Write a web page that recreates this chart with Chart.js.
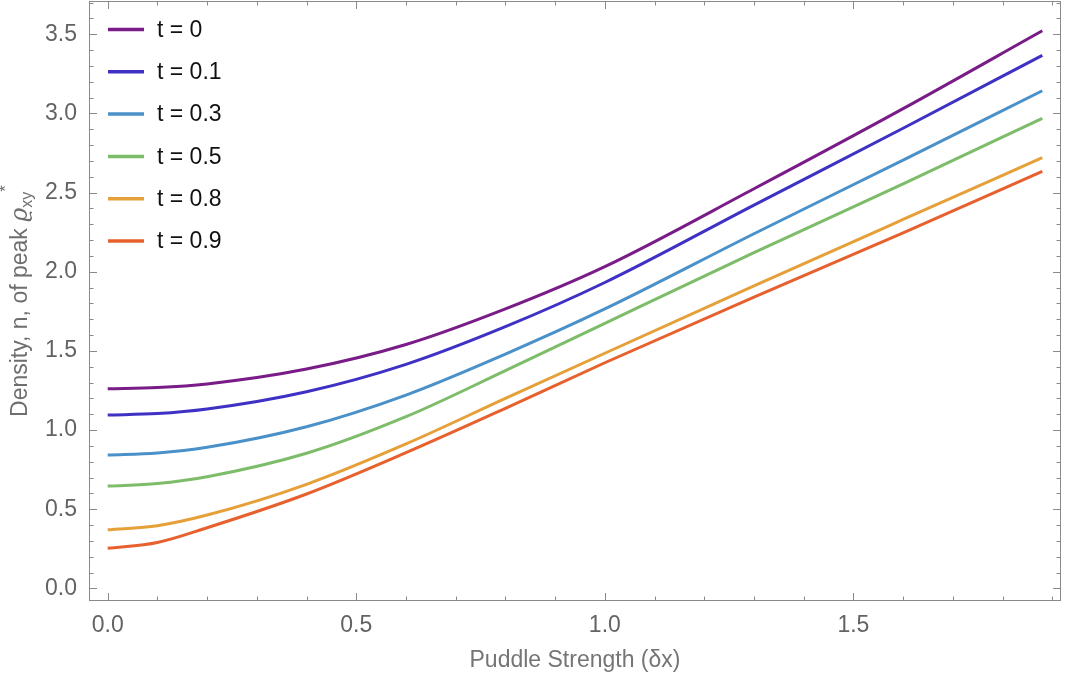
<!DOCTYPE html>
<html lang="en">
<head>
  <meta charset="UTF-8" />
  <title>Density of peak vs Puddle Strength</title>
  <script src="https://cdn.jsdelivr.net/npm/chart.js"></script>
  <style>
    body { margin: 0; background: #fff; }
    #wrap { width: 1066px; height: 679px; }
  </style>
</head>
<body>
  <div id="wrap"><canvas id="densityChart" width="1066" height="679"></canvas></div>

  <script>
    // values
    const xValues = [0, 0.1, 0.2, 0.4, 0.6, 0.8, 1.0, 1.3, 1.6, 1.88];
    const seriesLabels = ["t = 0", "t = 0.1", "t = 0.3", "t = 0.5", "t = 0.8", "t = 0.9"];
    const t0  = [1.260, 1.268, 1.291, 1.385, 1.540, 1.765, 2.032, 2.524, 3.030, 3.522];
    const t01 = [1.095, 1.104, 1.133, 1.242, 1.415, 1.653, 1.932, 2.421, 2.906, 3.367];
    const t03 = [0.842, 0.855, 0.891, 1.021, 1.221, 1.480, 1.765, 2.240, 2.705, 3.143];
    const t05 = [0.646, 0.662, 0.705, 0.853, 1.084, 1.375, 1.674, 2.120, 2.555, 2.969];
    const t08 = [0.370, 0.396, 0.463, 0.657, 0.912, 1.200, 1.485, 1.910, 2.330, 2.720];
    const t09 = [0.253, 0.290, 0.383, 0.596, 0.857, 1.137, 1.425, 1.840, 2.245, 2.634];
    const seriesColors = ["#7a1c88", "#3f31c3", "#4a91c9", "#7dbc69", "#e6a03a", "#e6612e"];

    const xMajor = [0, 0.5, 1.0, 1.5];
    const yMajor = [0, 0.5, 1.0, 1.5, 2.0, 2.5, 3.0, 3.5];
    const xMinor = [0.1, 0.2, 0.3, 0.4, 0.6, 0.7, 0.8, 0.9, 1.1, 1.2, 1.3, 1.4, 1.6, 1.7, 1.8, 1.9];
    const yMinor = [0.1, 0.2, 0.3, 0.4, 0.6, 0.7, 0.8, 0.9, 1.1, 1.2, 1.3, 1.4, 1.6, 1.7, 1.8, 1.9,
                    2.1, 2.2, 2.3, 2.4, 2.6, 2.7, 2.8, 2.9, 3.1, 3.2, 3.3, 3.4, 3.6, 3.7];

    const FONT = "'Liberation Sans', Arial, sans-serif";
    const FRAME = "#8a8a8a";

    Chart.defaults.font.family = FONT;

    const allSeries = [t0, t01, t03, t05, t08, t09];
    const datasets = allSeries.map((ys, i) => ({
      label: seriesLabels[i],
      data: xValues.map((x, j) => ({ x: x, y: ys[j] })),
      borderColor: seriesColors[i],
      backgroundColor: seriesColors[i],
      borderWidth: 3,
      pointRadius: 0,
      cubicInterpolationMode: 'monotone',
      fill: false
    }));

    // frame with inward ticks on all four sides, legend and y title
    const framePlugin = {
      id: 'frame',
      afterDatasetsDraw(chart) {
        const { ctx, chartArea: a, scales } = chart;
        const xs = scales.x, ys = scales.y;
        ctx.save();
        ctx.strokeStyle = FRAME;
        ctx.lineWidth = 1;
        ctx.strokeRect(Math.round(a.left) + 0.5, Math.round(a.top) + 0.5,
                       Math.round(a.right - a.left) - 1, Math.round(a.bottom - a.top) - 1);

        ctx.beginPath();
        const xTick = (v, len) => {
          const px = Math.round(xs.getPixelForValue(v)) + 0.5;
          ctx.moveTo(px, a.bottom); ctx.lineTo(px, a.bottom - len);
          ctx.moveTo(px, a.top); ctx.lineTo(px, a.top + len);
        };
        const yTick = (v, len) => {
          const py = Math.round(ys.getPixelForValue(v)) + 0.5;
          ctx.moveTo(a.left, py); ctx.lineTo(a.left + len, py);
          ctx.moveTo(a.right, py); ctx.lineTo(a.right - len, py);
        };
        xMajor.forEach(v => xTick(v, 8));
        xMinor.forEach(v => xTick(v, 4.5));
        yMajor.forEach(v => yTick(v, 8));
        yMinor.forEach(v => yTick(v, 4.5));
        ctx.stroke();

        // legend
        chart.data.datasets.forEach((ds, i) => {
          const y = a.top + 28.5 + i * 42.3;
          ctx.strokeStyle = ds.borderColor;
          ctx.lineWidth = 3.5;
          ctx.beginPath();
          ctx.moveTo(108, y); ctx.lineTo(144, y);
          ctx.stroke();
          ctx.fillStyle = "#111";
          ctx.font = "23px " + FONT;
          ctx.textBaseline = "middle";
          ctx.textAlign = "left";
          ctx.fillText(ds.label, 157, y + 1);
        });

        // y axis title with subscript and superscript
        const parts = [
          { t: "Density, n, of peak ", f: "23px " + FONT, dy: 0 },
          { t: "\u03F1", f: "italic 24px 'DejaVu Serif', serif", dy: 0 },
          { t: "xy", f: "16px " + FONT, dy: 7 },
          { t: "*", f: "17px " + FONT, dy: -15 }
        ];
        let total = 0;
        parts.forEach(p => { ctx.font = p.f; p.w = ctx.measureText(p.t).width; total += p.w; });
        ctx.translate(21, (a.top + a.bottom) / 2);
        ctx.rotate(-Math.PI / 2);
        ctx.fillStyle = "#6e6e6e";
        ctx.textAlign = "left";
        ctx.textBaseline = "middle";
        let cx = -total / 2;
        parts.forEach(p => { ctx.font = p.f; ctx.fillText(p.t, cx, p.dy); cx += p.w; });
        ctx.restore();
      }
    };

    new Chart(document.getElementById('densityChart'), {
      type: 'line',
      data: { datasets: datasets },
      options: {
        responsive: false,
        animation: false,
        layout: { padding: { left: 0, right: 5, top: 1, bottom: 0 } },
        plugins: {
          legend: { display: false },
          tooltip: { enabled: false }
        },
        scales: {
          x: {
            type: 'linear',
            min: -0.0376,
            max: 1.9176,
            grid: { display: false },
            border: { display: false },
            afterBuildTicks: s => { s.ticks = xMajor.map(v => ({ value: v })); },
            afterFit: s => { s.height = 78; s.paddingLeft = 0; s.paddingRight = 0; },
            ticks: {
              padding: 3,
              color: "#636363",
              font: { size: 23 },
              maxRotation: 0,
              autoSkip: false,
              callback: v => Number(v).toFixed(1)
            },
            title: {
              display: true,
              text: "Puddle Strength (\u03B4x)",
              color: "#757575",
              font: { size: 23 },
              padding: { top: 0, bottom: 5 }
            }
          },
          y: {
            type: 'linear',
            min: -0.08,
            max: 3.71,
            grid: { display: false },
            border: { display: false },
            afterBuildTicks: s => { s.ticks = yMajor.map(v => ({ value: v })); },
            afterFit: s => { s.width = 89; s.paddingTop = 0; s.paddingBottom = 0; },
            ticks: {
              padding: 4,
              color: "#636363",
              font: { size: 23 },
              autoSkip: false,
              callback: v => Number(v).toFixed(1)
            }
          }
        }
      },
      plugins: [framePlugin]
    });
  </script>
</body>
</html>
